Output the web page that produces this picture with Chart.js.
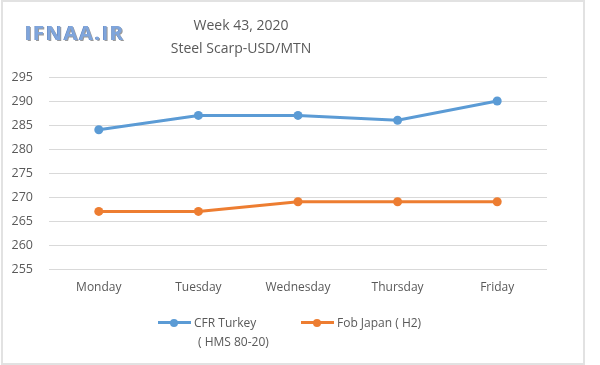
<!DOCTYPE html>
<html>
<head>
<meta charset="utf-8">
<script src="https://cdn.jsdelivr.net/npm/chart.js@4"></script>
<style>
  html, body { margin: 0; padding: 0; background: #fff; }
  #wrap { position: relative; width: 600px; height: 365px; overflow: hidden; }
  #frame { position: absolute; left: 1px; top: 0px; width: 580px; height: 361px; border: 2px solid #e2e2e2; box-sizing: content-box; pointer-events: none; }
  canvas { position: absolute; left: 0; top: 0; }
  .t { position: absolute; font-family: "Open Sans", sans-serif; color: #595959; white-space: nowrap; }
  #logo { position: absolute; left: 25px; top: 19px; font-family: "Open Sans", sans-serif; font-weight: 700; font-size: 20px; letter-spacing: 1.6px; color: #7fa5dc;
          text-shadow: 1px 1px 0 #9a9a9a, -0.5px -0.5px 0 #5b7fb8; }
  .sw { position: absolute; height: 3px; }
  .dot { position: absolute; width: 8px; height: 8px; border-radius: 50%; }
</style>
</head>
<body>
<div id="wrap">
  <canvas id="c" width="600" height="365"></canvas>
  <div id="frame"></div>
  <div id="logo">IFNAA.IR</div>
  <div class="t" id="t1" style="font-size:14px; top:15px; left:0; width:482px; text-align:center;">Week 43, 2020</div>
  <div class="t" id="t2" style="font-size:14px; top:38px; left:0; width:482px; text-align:center;">Steel Scarp-USD/MTN</div>
  <div id="legend"></div>
</div>
<script>
const categories = ["Monday", "Tuesday", "Wednesday", "Thursday", "Friday"];
const seriesNames = [["CFR Turkey", "( HMS 80-20)"], ["Fob Japan ( H2)"]];
const cfrTurkey = [284, 287, 287, 286, 290];
const fobJapan = [267, 267, 269, 269, 269];
const yTicks = [255, 260, 265, 270, 275, 280, 285, 290, 295];
const colors = ["#5b9bd5", "#ed7d31"];

const ctx = document.getElementById('c').getContext('2d');
new Chart(ctx, {
  type: 'line',
  data: {
    labels: categories,
    datasets: [
      { label: seriesNames[0].join(' '), data: cfrTurkey, borderColor: colors[0], backgroundColor: colors[0],
        borderWidth: 3, pointRadius: 4.5, pointBorderWidth: 0, tension: 0 },
      { label: seriesNames[1].join(' '), data: fobJapan, borderColor: colors[1], backgroundColor: colors[1],
        borderWidth: 3, pointRadius: 4.5, pointBorderWidth: 0, tension: 0 }
    ]
  },
  options: {
    responsive: false,
    animation: false,
    layout: { padding: { left: 0, right: 53, top: 77, bottom: 56 } },
    plugins: { legend: { display: false }, title: { display: false }, tooltip: { enabled: false } },
    scales: {
      x: {
        offset: true,
        grid: { display: false, drawTicks: false },
        border: { display: false },
        ticks: { color: '#595959', font: { family: 'Open Sans', size: 12 }, padding: 11, maxRotation: 0 },
        afterFit: (s) => { s.height = 40; }
      },
      y: {
        min: yTicks[0], max: yTicks[yTicks.length - 1],
        afterBuildTicks: (s) => { s.ticks = yTicks.map(v => ({ value: v })); },
        grid: { color: '#d9d9d9', lineWidth: 1, drawTicks: false },
        border: { display: false },
        ticks: { color: '#595959', font: { family: 'Open Sans', size: 12.5 }, padding: 16 },
        afterFit: (s) => { s.width = 49; }
      }
    }
  }
});

// legend (HTML)
const legend = document.getElementById('legend');
const legendPos = [{ x: 158, textX: 194 }, { x: 301, textX: 337 }];
seriesNames.forEach((lines, i) => {
  const p = legendPos[i];
  const sw = document.createElement('div');
  sw.className = 'sw'; sw.style.background = colors[i];
  sw.style.left = p.x + 'px'; sw.style.top = '321px'; sw.style.width = '33px';
  legend.appendChild(sw);
  const d = document.createElement('div');
  d.className = 'dot'; d.style.background = colors[i];
  d.style.left = (p.x + 12) + 'px'; d.style.top = '318.5px';
  legend.appendChild(d);
  lines.forEach((ln, j) => {
    const t = document.createElement('div');
    t.className = 't'; t.textContent = ln; t.style.fontSize = '12px';
    t.style.left = (p.textX + (j > 0 ? 4 : 0)) + 'px'; t.style.top = (314 + j * 19) + 'px';
    legend.appendChild(t);
  });
});
</script>
</body>
</html>
